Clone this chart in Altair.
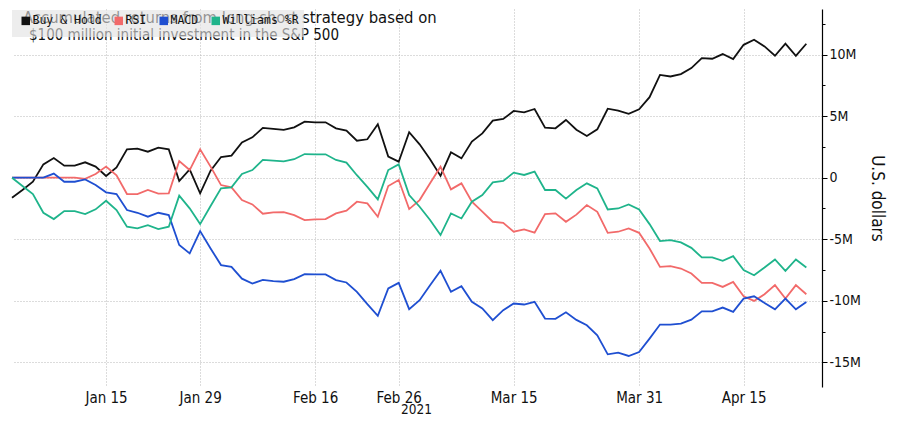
import altair as alt
import pandas as pd

# ---- data (millions of U.S. dollars, one value per trading day, Jan 4 - Apr 23 2021) ----
dates = pd.bdate_range("2021-01-04", "2021-04-23", freq="C",
                       holidays=["2021-01-18", "2021-02-15", "2021-04-02"])

series_names = ["Buy & Hold", "RSI", "MACD", "Williams %R"]
series_colors = ["#111111", "#f26a6a", "#1f4fd1", "#1fb48b"]

buy_hold = [-1.63, -1.0, -0.33, 1.08, 1.6, 0.98, 0.98, 1.25, 0.9, 0.14,
            0.84, 2.3, 2.36, 2.11, 2.44, 2.3, -0.27, 0.68, -1.27, 0.57,
            1.68, 1.79, 2.87, 3.28, 4.04, 3.96, 3.88, 4.09, 4.55, 4.5,
            4.5, 4.01, 3.82, 3.0, 3.12, 4.34, 1.71, 1.3, 3.69, 2.71,
            1.49, 0.14, 2.06, 1.57, 2.93, 3.6, 4.63, 4.77, 5.42, 5.31,
            5.58, 4.07, 4.01, 4.69, 3.9, 3.39, 3.93, 5.6, 5.45, 5.18,
            5.56, 6.54, 8.35, 8.22, 8.41, 8.9, 9.71, 9.66, 10.04, 9.63,
            10.79, 11.2, 10.66, 9.9, 10.88, 9.9, 10.88]

rsi = [0, 0, 0, 0, 0, 0, 0, -0.1, 0.3, 0.9,
       0.2, -1.33, -1.33, -1.0, -1.3, -1.27, 1.35, 0.62, 2.3, 0.9,
       -0.6, -0.79, -1.82, -2.17, -2.93, -2.82, -2.79, -3.04, -3.44, -3.39,
       -3.36, -2.9, -2.68, -1.95, -2.09, -3.17, -0.68, -0.19, -2.55, -1.82,
       -0.46, 0.89, -0.95, -0.46, -1.95, -2.76, -3.58, -3.66, -4.39, -4.2,
       -4.47, -2.95, -2.9, -3.58, -3.0, -2.22, -2.77, -4.48, -4.39, -4.12,
       -4.48, -5.75, -7.24, -7.19, -7.38, -7.78, -8.54, -8.54, -8.87, -8.46,
       -9.63, -10.01, -9.47, -8.73, -9.82, -8.73, -9.47]

macd = [0, 0, 0, 0, 0.33, -0.33, -0.33, -0.14, -0.6, -1.19,
        -1.33, -2.63, -2.85, -3.17, -2.85, -3.04, -5.47, -6.15, -4.34, -5.75,
        -7.1, -7.24, -8.2, -8.6, -8.3, -8.4, -8.45, -8.24, -7.83, -7.86,
        -7.86, -8.32, -8.51, -9.27, -10.27, -11.22, -9.0, -8.54, -10.68, -9.95,
        -8.73, -7.56, -9.27, -8.81, -10.08, -10.62, -11.57, -10.76, -10.22, -10.3,
        -10.08, -11.44, -11.46, -10.93, -11.55, -11.99, -12.8, -14.35, -14.21, -14.48,
        -14.16, -13.07, -11.93, -11.93, -11.85, -11.53, -10.85, -10.85, -10.55, -10.9,
        -9.82, -9.63, -10.17, -10.69, -9.82, -10.69, -10.09]

williams = [0, -0.68, -1.33, -2.85, -3.36, -2.71, -2.71, -2.95, -2.57, -1.87,
            -2.63, -3.98, -4.12, -3.85, -4.17, -3.98, -1.46, -2.49, -3.77, -2.3,
            -0.87, -0.79, 0.3, 0.62, 1.44, 1.38, 1.33, 1.5, 1.92, 1.9,
            1.9, 1.44, 1.22, 0.2, -0.75, -1.76, 0.62, 1.08, -1.41, -2.36,
            -3.44, -4.66, -2.9, -3.31, -1.95, -1.41, -0.38, -0.27, 0.41, 0.22,
            0.49, -1.0, -1.0, -1.7, -1.0, -0.46, -0.87, -2.58, -2.5, -2.17,
            -2.58, -3.77, -5.15, -5.07, -5.26, -5.7, -6.48, -6.48, -6.75, -6.37,
            -7.51, -7.92, -7.3, -6.64, -7.57, -6.64, -7.3]

tick_dates = ["2021-01-15", "2021-01-29", "2021-02-16", "2021-02-26",
              "2021-03-15", "2021-03-31", "2021-04-15"]
tick_labels = ["Jan 15", "Jan 29", "Feb 16", "Feb 26", "Mar 15", "Mar 31", "Apr 15"]
y_ticks = [-15, -12.5, -10, -7.5, -5, -2.5, 0, 2.5, 5, 7.5, 10, 12.5]

subtitle_1 = "Accumulated returns from long-short strategy based on"
subtitle_2 = "$100 million initial investment in the S&P 500"

# ---- build table ----
date_list = list(dates)
rows = []
for name, vals in zip(series_names, [buy_hold, rsi, macd, williams]):
    for i, v in enumerate(vals):
        rows.append({"idx": i, "date": date_list[i].strftime("%Y-%m-%d"),
                     "series": name, "value": v})
df = pd.DataFrame(rows)

tick_idx = [date_list.index(pd.Timestamp(d)) for d in tick_dates]
label_expr = " : ".join(f"datum.value === {i} ? '{l}'" for i, l in zip(tick_idx, tick_labels)) + " : ''"

FONT = "DejaVu Sans Condensed, Liberation Sans Narrow, DejaVu Sans"
MAJOR = "datum.value % 5 === 0"

lines = alt.Chart(df).mark_line(strokeWidth=1.8).encode(
    x=alt.X("idx:Q",
            scale=alt.Scale(domain=[0, 77.5], nice=False, zero=False),
            axis=alt.Axis(values=tick_idx, labelExpr=label_expr,
                          grid=True, gridDash=[1, 2], gridColor="#b8b8b8",
                          ticks=False, domain=False,
                          labelFont=FONT, labelFontSize=15, labelColor="#111",
                          labelPadding=3, labelFlush=False, labelOverlap=False,
                          title="2021", titleFont=FONT, titleFontSize=13.5,
                          titleFontWeight="normal", titleColor="#111",
                          titleX=404, titleY=26, titleBaseline="alphabetic",
                          titleAlign="center")),
    y=alt.Y("value:Q",
            scale=alt.Scale(domain=[-17, 13.7], nice=False, zero=False),
            axis=alt.Axis(orient="right", values=y_ticks,
                          labelExpr=f"{MAJOR} ? (datum.value === 0 ? '0' : datum.value + 'M') : ''",
                          grid=True, gridDash=[1, 2], gridColor="#b8b8b8",
                          gridOpacity={"condition": {"test": MAJOR, "value": 1}, "value": 0},
                          tickSize={"condition": {"test": MAJOR, "value": 5}, "value": 3},
                          tickColor="#000", domainColor="#000", domainWidth=1.2,
                          labelFont=FONT, labelFontSize=14, labelColor="#111",
                          labelPadding=2, labelFlush=False, labelOverlap=False,
                          title="U.S. dollars", titleFont=FONT, titleFontSize=17,
                          titleFontWeight="normal", titleColor="#111",
                          titleAngle=90, titleX=54, titleY=189,
                          titleBaseline="middle", titleAlign="center")),
    color=alt.Color("series:N",
                    scale=alt.Scale(domain=series_names, range=series_colors),
                    legend=alt.Legend(orient="none", legendX=0, legendY=1,
                                      direction="horizontal", title=None,
                                      fillColor="rgba(226,226,226,0.62)",
                                      padding=5, symbolType="square", symbolSize=16,
                                      symbolOffset=3, symbolStrokeWidth=4.5,
                                      symbolOpacity=1,
                                      labelFont="DejaVu Sans Mono", labelFontSize=11.5,
                                      labelColor="#111", labelOffset=1)),
)

sub1 = alt.Chart(pd.DataFrame({"t": [subtitle_1]})).mark_text(
    align="left", baseline="alphabetic", font=FONT, fontSize=16.5, color="#111"
).encode(text="t:N", x=alt.value(11), y=alt.value(14))

sub2 = alt.Chart(pd.DataFrame({"t": [subtitle_2]})).mark_text(
    align="left", baseline="alphabetic", font=FONT, fontSize=15, color="#111"
).encode(text="t:N", x=alt.value(17), y=alt.value(31))

chart = alt.layer(sub1, sub2, lines).properties(
    width=810, height=378,
    autosize=alt.AutoSizeParams(type="none"),
    padding={"left": 4, "top": 1, "right": 68, "bottom": 29},
).configure_view(stroke=None).configure_legend(columnPadding=5)

chart.save("out.html", embed_options={"renderer": "svg", "actions": False})
